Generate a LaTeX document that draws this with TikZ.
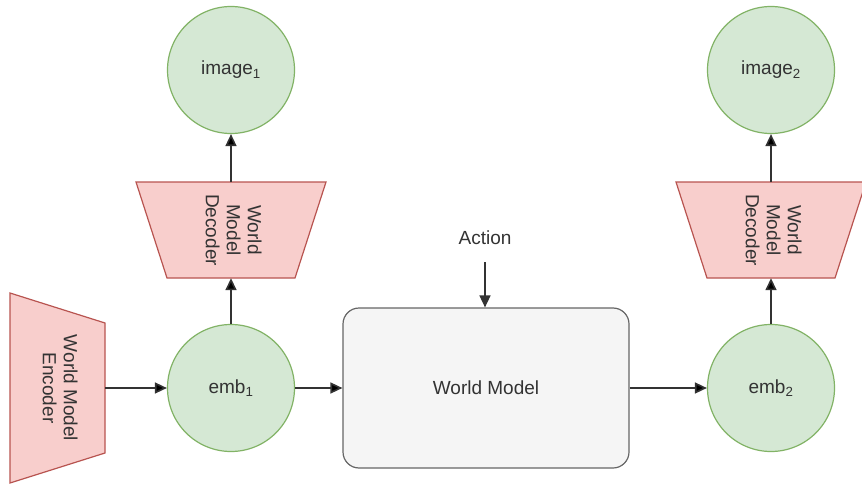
\documentclass[tikz,border=0pt]{standalone}
\usepackage{fontspec}
\setmainfont{Liberation Sans}
\usetikzlibrary{arrows.meta}
\definecolor{embfill}{HTML}{D5E8D4}
\definecolor{embdraw}{HTML}{82B366}
\definecolor{codfill}{HTML}{F8CECC}
\definecolor{coddraw}{HTML}{B85450}
\definecolor{wmfill}{HTML}{F5F5F5}
\definecolor{wmdraw}{HTML}{666666}
\definecolor{txt}{HTML}{333333}
\tikzset{
  arr/.style={draw=txt,line width=1.6,-{Triangle[length=12pt,width=11pt]}},
  codec/.style={fill=codfill,draw=coddraw,line width=1.2}
}
\begin{document}
\begin{tikzpicture}[x=1pt,y=-1pt,font=\fontsize{19}{21}\selectfont,text=txt]
		\useasboundingbox (0,0) rectangle (862,484);
		% trapezoid outlines
		\path [codec] (10,293) -- (105,323) -- (105,453) -- (10,483) -- cycle;
		\path [codec] (136,182) -- (326,182) -- (295,278) -- (167,278) -- cycle;
		\path [codec] (676,182) -- (866,182) -- (835,278) -- (707,278) -- cycle;
		
		\begin{scope}[every node/.style={circle,fill=embfill,draw=embdraw,
			line width=1.2,inner sep=0pt,minimum size=127}]
		\node (img1) at (231,70) {image\textsubscript{1}};
		\node (emb1) at (231,388) {emb\textsubscript{1}};
		\node (img2) at (771,70) {image\textsubscript{2}};
		\node (emb2) at (771,388) {emb\textsubscript{2}};
		\end{scope}
		
		\begin{scope}[every node/.style={inner sep=0pt,align=center}]
		\node (enc) at (57.5,388) [minimum width=95,minimum height=130]
			{\rotatebox{-90}{\begin{tabular}{@{}c@{}}World Model\\Encoder\end{tabular}}};
		\node (dec1) at (231,230) [minimum width=128,minimum height=96]
			{\rotatebox{-90}{\begin{tabular}{@{}c@{}}World\\Model\\Decoder\end{tabular}}};
		\node (dec2) at (771,230) [minimum width=128,minimum height=96]
			{\rotatebox{-90}{\begin{tabular}{@{}c@{}}World\\Model\\Decoder\end{tabular}}};
		\node (act) at (485,238) {Action};
		\end{scope}
		\coordinate (actin) at (485,262);
		
		\node (wm) at (486,388) [draw=wmdraw,fill=wmfill,line width=1.2,
			rounded corners=16,minimum width=286,minimum height=160] {World Model};
		
		\path [arr] (enc) edge (emb1);
		\path [arr] (emb1) edge (wm);
		\path [arr] (wm) edge (emb2);
		\path [arr] (emb1) edge (dec1);
		\path [arr] (dec1) edge (img1);
		\path [arr] (emb2) edge (dec2);
		\path [arr] (dec2) edge (img2);
		\draw [arr] (actin) -- (wm.north -| actin);
		\end{tikzpicture}
\end{document}
